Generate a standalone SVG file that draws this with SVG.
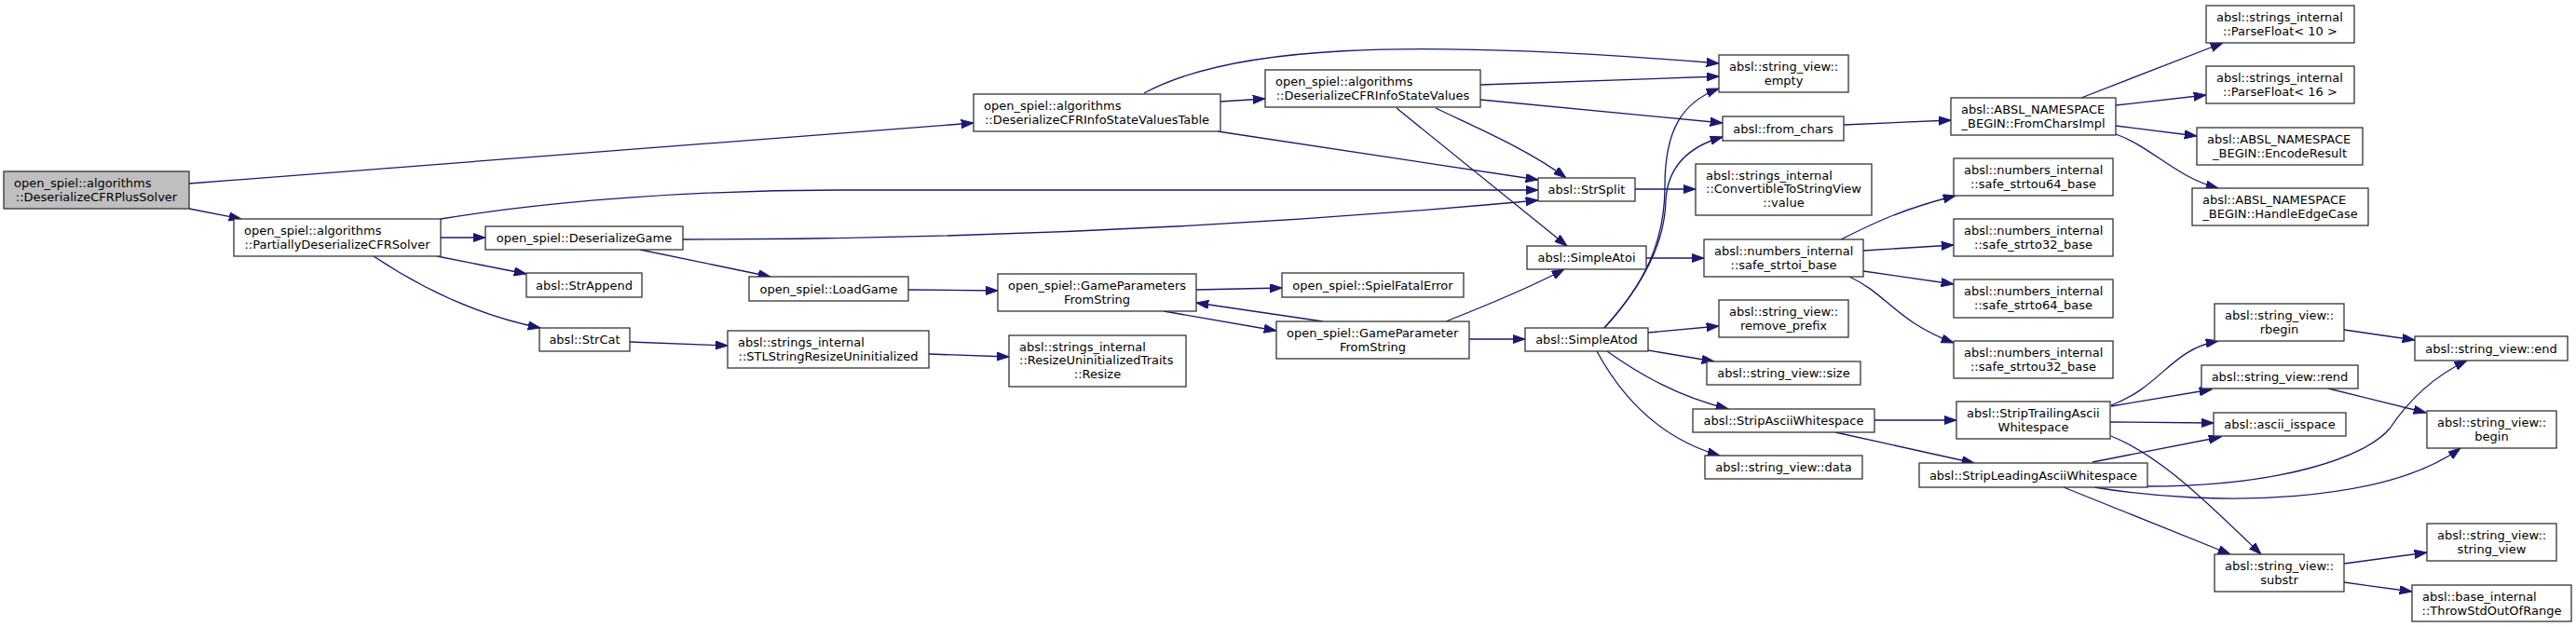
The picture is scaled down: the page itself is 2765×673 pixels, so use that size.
<svg xmlns="http://www.w3.org/2000/svg" width="2765" height="673" viewBox="0 0 2765 673">
<style>
.n rect{fill:#ffffff;stroke:#333333;stroke-width:1.3}
.n.root rect{fill:#bfbfbf}
.n text{font-family:"DejaVu Sans","Liberation Sans",sans-serif;font-size:13px;fill:#000000}
.c{text-anchor:middle}
.e path{fill:none;stroke:#191970;stroke-width:1.3;marker-end:url(#ah)}
</style>
<defs>
<marker id="ah" markerUnits="userSpaceOnUse" viewBox="0 0 14 10" refX="13.3" refY="4.65" markerWidth="14" markerHeight="10" orient="auto">
<path d="M0,0 L13.3,4.65 L0,9.3 Z" fill="#191970" stroke="#191970" stroke-width="1"/>
</marker>
</defs>
<rect width="2765" height="673" fill="#ffffff"/>
<g id="edges" class="e">
<path d="M203,197 L1045,132"/>
<path d="M203,224 L259,235"/>
<path d="M473,255 L521,255"/>
<path d="M469,275 L565,294"/>
<path d="M401,275 C440,301 500,336 580,352"/>
<path d="M473,235 C600,214 760,204 900,204 L1651,204"/>
<path d="M733,257 C1000,257 1300,247 1651,215"/>
<path d="M687,268 L827,297"/>
<path d="M1310,109 L1358,106"/>
<path d="M1228,100 C1320,50 1500,40 1845,68"/>
<path d="M1307,141 L1651,193"/>
<path d="M1589,91 L1845,82"/>
<path d="M1589,107 L1849,132"/>
<path d="M1541,116 C1580,135 1640,160 1681,191"/>
<path d="M1499,116 L1682,264"/>
<path d="M975,311 L1071,312"/>
<path d="M676,367 L781,371"/>
<path d="M997,380 L1083,383"/>
<path d="M1284,311 L1376,309"/>
<path d="M1249,334 L1370,355"/>
<path d="M1420,345 L1284,325"/>
<path d="M1552,345 C1590,330 1640,310 1679,289"/>
<path d="M1577,364 L1637,364"/>
<path d="M1755,203 L1820,203"/>
<path d="M1767,277 L1829,277"/>
<path d="M1722,352 C1765,305 1787,260 1787,200 C1787,140 1805,110 1845,95"/>
<path d="M1722,352 C1765,305 1787,260 1788,215 C1790,180 1810,158 1849,147"/>
<path d="M1769,357 L1845,350"/>
<path d="M1769,376 L1840,388"/>
<path d="M1725,377 C1760,402 1800,425 1855,439"/>
<path d="M1714,377 C1740,425 1780,470 1846,489"/>
<path d="M1979,134 L2094,129"/>
<path d="M1976,257 C2010,240 2040,225 2099,210"/>
<path d="M2000,269 L2097,263"/>
<path d="M2000,291 L2097,305"/>
<path d="M1985,297 C2025,315 2035,345 2097,368"/>
<path d="M2012,451 L2100,451"/>
<path d="M1970,464 L2119,497"/>
<path d="M2234,105 L2386,46"/>
<path d="M2271,113 L2368,102"/>
<path d="M2271,135 L2358,146"/>
<path d="M2271,144 C2310,158 2335,190 2381,202"/>
<path d="M2266,435 C2320,415 2330,375 2381,366"/>
<path d="M2266,436 L2374,418"/>
<path d="M2265,453 L2376,454"/>
<path d="M2266,468 C2320,490 2370,540 2427,595"/>
<path d="M2246,496 L2384,469"/>
<path d="M2305,522 C2450,522 2540,490 2565,460 C2585,430 2610,405 2648,387"/>
<path d="M2248,523 C2380,545 2560,540 2641,481"/>
<path d="M2215,523 L2394,595"/>
<path d="M2516,354 L2592,365"/>
<path d="M2499,417 L2604,443"/>
<path d="M2516,605 L2605,593"/>
<path d="M2516,625 L2589,635"/>
</g>
<g id="n_root" class="n root"><rect x="4" y="184" width="199" height="40"/><text x="15" y="201">open_spiel::algorithms</text><text class="c" x="103.5" y="215.5">::DeserializeCFRPlusSolver</text></g>
<g id="n_partially" class="n"><rect x="251" y="235" width="222" height="40"/><text x="262" y="252">open_spiel::algorithms</text><text class="c" x="362" y="266.5">::PartiallyDeserializeCFRSolver</text></g>
<g id="n_deserializegame" class="n"><rect x="521" y="243" width="212" height="25"/><text class="c" x="627" y="260">open_spiel::DeserializeGame</text></g>
<g id="n_strappend" class="n"><rect x="565" y="293" width="124" height="26"/><text class="c" x="627" y="310.5">absl::StrAppend</text></g>
<g id="n_strcat" class="n"><rect x="579" y="352" width="97" height="25"/><text class="c" x="627.5" y="369">absl::StrCat</text></g>
<g id="n_table" class="n"><rect x="1045" y="101" width="265" height="40"/><text x="1056" y="118">open_spiel::algorithms</text><text class="c" x="1177.5" y="132.5">::DeserializeCFRInfoStateValuesTable</text></g>
<g id="n_loadgame" class="n"><rect x="804" y="297" width="171" height="26"/><text class="c" x="889.5" y="314.5">open_spiel::LoadGame</text></g>
<g id="n_stlresize" class="n"><rect x="781" y="355" width="216" height="40"/><text x="792" y="372">absl::strings_internal</text><text class="c" x="889" y="386.5">::STLStringResizeUninitialized</text></g>
<g id="n_gpfs" class="n"><rect x="1071" y="294" width="213" height="40"/><text x="1082" y="311">open_spiel::GameParameters</text><text class="c" x="1177.5" y="325.5">FromString</text></g>
<g id="n_resize" class="n"><rect x="1083" y="360" width="190" height="55"/><text x="1094" y="376.5">absl::strings_internal</text><text x="1094" y="391">::ResizeUninitializedTraits</text><text class="c" x="1178" y="405.5">::Resize</text></g>
<g id="n_values" class="n"><rect x="1358" y="75" width="231" height="40"/><text x="1369" y="92">open_spiel::algorithms</text><text class="c" x="1473.5" y="106.5">::DeserializeCFRInfoStateValues</text></g>
<g id="n_spielfatal" class="n"><rect x="1376" y="293" width="195" height="26"/><text class="c" x="1473.5" y="310.5">open_spiel::SpielFatalError</text></g>
<g id="n_gpfromstring" class="n"><rect x="1370" y="345" width="207" height="40"/><text x="1381" y="362">open_spiel::GameParameter</text><text class="c" x="1473.5" y="376.5">FromString</text></g>
<g id="n_strsplit" class="n"><rect x="1651" y="191" width="104" height="25"/><text class="c" x="1703" y="208">absl::StrSplit</text></g>
<g id="n_simpleatoi" class="n"><rect x="1639" y="264" width="128" height="25"/><text class="c" x="1703" y="281">absl::SimpleAtoi</text></g>
<g id="n_simpleatod" class="n"><rect x="1637" y="352" width="132" height="25"/><text class="c" x="1703" y="369">absl::SimpleAtod</text></g>
<g id="n_empty" class="n"><rect x="1845" y="59" width="139" height="40"/><text x="1856" y="76">absl::string_view::</text><text class="c" x="1914.5" y="90.5">empty</text></g>
<g id="n_fromchars" class="n"><rect x="1849" y="125" width="130" height="26"/><text class="c" x="1914" y="142.5">absl::from_chars</text></g>
<g id="n_convertible" class="n"><rect x="1820" y="176" width="189" height="55"/><text x="1831" y="192.5">absl::strings_internal</text><text x="1831" y="207">::ConvertibleToStringView</text><text class="c" x="1914.5" y="221.5">::value</text></g>
<g id="n_strtoi" class="n"><rect x="1829" y="257" width="171" height="40"/><text x="1840" y="274">absl::numbers_internal</text><text class="c" x="1914.5" y="288.5">::safe_strtoi_base</text></g>
<g id="n_removeprefix" class="n"><rect x="1845" y="322" width="139" height="40"/><text x="1856" y="339">absl::string_view::</text><text class="c" x="1914.5" y="353.5">remove_prefix</text></g>
<g id="n_size" class="n"><rect x="1832" y="388" width="165" height="25"/><text class="c" x="1914.5" y="405">absl::string_view::size</text></g>
<g id="n_stripascii" class="n"><rect x="1817" y="439" width="195" height="25"/><text class="c" x="1914.5" y="456">absl::StripAsciiWhitespace</text></g>
<g id="n_data" class="n"><rect x="1830" y="489" width="169" height="25"/><text class="c" x="1914.5" y="506">absl::string_view::data</text></g>
<g id="n_fromcharsimpl" class="n"><rect x="2094" y="105" width="177" height="40"/><text x="2105" y="122">absl::ABSL_NAMESPACE</text><text class="c" x="2182.5" y="136.5">_BEGIN::FromCharsImpl</text></g>
<g id="n_strtou64" class="n"><rect x="2097" y="170" width="171" height="40"/><text x="2108" y="187">absl::numbers_internal</text><text class="c" x="2182.5" y="201.5">::safe_strtou64_base</text></g>
<g id="n_strto32" class="n"><rect x="2097" y="235" width="171" height="40"/><text x="2108" y="252">absl::numbers_internal</text><text class="c" x="2182.5" y="266.5">::safe_strto32_base</text></g>
<g id="n_strto64" class="n"><rect x="2097" y="300" width="171" height="41"/><text x="2108" y="317">absl::numbers_internal</text><text class="c" x="2182.5" y="331.5">::safe_strto64_base</text></g>
<g id="n_strtou32" class="n"><rect x="2097" y="366" width="171" height="40"/><text x="2108" y="383">absl::numbers_internal</text><text class="c" x="2182.5" y="397.5">::safe_strtou32_base</text></g>
<g id="n_striptrailing" class="n"><rect x="2100" y="431" width="165" height="40"/><text x="2111" y="448">absl::StripTrailingAscii</text><text class="c" x="2182.5" y="462.5">Whitespace</text></g>
<g id="n_stripleading" class="n"><rect x="2060" y="497" width="245" height="26"/><text class="c" x="2182.5" y="514.5">absl::StripLeadingAsciiWhitespace</text></g>
<g id="n_pf10" class="n"><rect x="2368" y="6" width="159" height="40"/><text x="2379" y="23">absl::strings_internal</text><text class="c" x="2447.5" y="37.5">::ParseFloat&lt; 10 &gt;</text></g>
<g id="n_pf16" class="n"><rect x="2368" y="71" width="159" height="40"/><text x="2379" y="88">absl::strings_internal</text><text class="c" x="2447.5" y="102.5">::ParseFloat&lt; 16 &gt;</text></g>
<g id="n_encoderesult" class="n"><rect x="2358" y="137" width="178" height="40"/><text x="2369" y="154">absl::ABSL_NAMESPACE</text><text class="c" x="2447" y="168.5">_BEGIN::EncodeResult</text></g>
<g id="n_handleedgecase" class="n"><rect x="2353" y="202" width="189" height="40"/><text x="2364" y="219">absl::ABSL_NAMESPACE</text><text class="c" x="2447.5" y="233.5">_BEGIN::HandleEdgeCase</text></g>
<g id="n_rbegin" class="n"><rect x="2377" y="326" width="139" height="40"/><text x="2388" y="343">absl::string_view::</text><text class="c" x="2446.5" y="357.5">rbegin</text></g>
<g id="n_rend" class="n"><rect x="2363" y="392" width="168" height="25"/><text class="c" x="2447" y="409">absl::string_view::rend</text></g>
<g id="n_asciiisspace" class="n"><rect x="2376" y="443" width="142" height="25"/><text class="c" x="2447" y="460">absl::ascii_isspace</text></g>
<g id="n_substr" class="n"><rect x="2377" y="595" width="139" height="40"/><text x="2388" y="612">absl::string_view::</text><text class="c" x="2446.5" y="626.5">substr</text></g>
<g id="n_end" class="n"><rect x="2592" y="361" width="164" height="26"/><text class="c" x="2674" y="378.5">absl::string_view::end</text></g>
<g id="n_begin" class="n"><rect x="2605" y="441" width="139" height="40"/><text x="2616" y="458">absl::string_view::</text><text class="c" x="2674.5" y="472.5">begin</text></g>
<g id="n_stringview" class="n"><rect x="2605" y="562" width="139" height="40"/><text x="2616" y="579">absl::string_view::</text><text class="c" x="2674.5" y="593.5">string_view</text></g>
<g id="n_throwstd" class="n"><rect x="2589" y="628" width="171" height="39"/><text x="2600" y="645">absl::base_internal</text><text class="c" x="2674.5" y="659.5">::ThrowStdOutOfRange</text></g>
</svg>
